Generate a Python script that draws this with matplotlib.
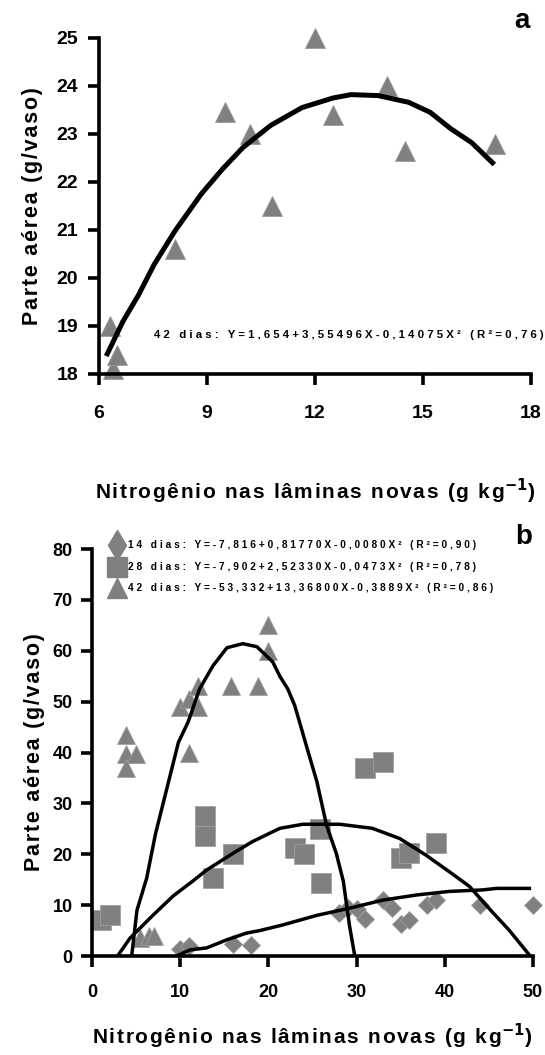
import matplotlib
matplotlib.use("Agg")
import matplotlib.pyplot as plt

plt.rcParams['font.family'] = ['Liberation Sans', 'DejaVu Sans']
plt.rcParams['font.weight'] = 'bold'
plt.rcParams['axes.labelweight'] = 'bold'
plt.rcParams['mathtext.default'] = 'bf'

# panel a - 42 dias
a_x = [6.3, 6.4, 6.5, 8.1, 9.5, 10.2, 10.8, 12.0, 12.5, 14.0, 14.5, 17.0]
a_y = [19.0, 18.1, 18.4, 20.6, 23.45, 23.0, 21.5, 25.0, 23.4, 24.0, 22.65, 22.8]
a_fit_x = [6.23, 6.66, 7.1, 7.53, 8.1, 8.84, 9.43, 10.0, 10.77, 11.64, 12.5, 13.0, 13.75, 14.6, 15.2, 15.77, 16.35, 16.93]
a_fit_y = [18.42, 19.09, 19.65, 20.28, 20.97, 21.75, 22.27, 22.72, 23.18, 23.55, 23.75, 23.82, 23.8, 23.66, 23.45, 23.11, 22.82, 22.4]
a_xticks = [6, 9, 12, 15, 18]
a_yticks = [18, 19, 20, 21, 22, 23, 24, 25]
a_eq = "42 dias: Y=1,654+3,55496X-0,14075X² (R²=0,76)"

# panel b
b14_x = [10, 11, 16, 18, 28, 29, 30, 31, 33, 34, 35, 36, 38, 39, 44, 50]
b14_y = [1.4, 2.0, 2.3, 2.2, 8.4, 9.5, 9.3, 7.2, 11.0, 9.5, 6.3, 7.1, 10.0, 11.0, 10.0, 10.0]
b28_x = [1, 2, 12.8, 12.8, 13.7, 16, 23, 24, 25.8, 26, 31, 33, 35, 36, 39]
b28_y = [7, 8, 27.5, 23.5, 15.3, 20, 21.2, 20, 25, 14.3, 37, 38.2, 19.2, 20.2, 22.2]
b42_x = [3.9, 3.8, 5.0, 3.9, 5.5, 6.5, 7.0, 10, 11, 12, 12, 11, 15.8, 18.8, 20, 20]
b42_y = [43.5, 39.7, 39.7, 37.0, 3.5, 4.0, 4.0, 49, 50.6, 53, 49, 40, 53, 53, 60, 65]

b14_fit_x = [9.6, 11.1, 13, 15.3, 17.5, 19, 21.6, 25.5, 29.2, 33, 36.8, 40.5, 44.3, 45.9, 49.6]
b14_fit_y = [0, 1.2, 1.6, 3.2, 4.5, 5.0, 6.1, 8.0, 9.4, 11.0, 12.0, 12.7, 13.0, 13.3, 13.3]
b28_fit_x = [2.9, 4.3, 6.9, 9.2, 11.4, 13, 16, 18.2, 21.3, 23.9, 28.1, 31.8, 34.9, 37.9, 40.5, 42.8, 45, 47.3, 49.6]
b28_fit_y = [0, 3.5, 8, 11.8, 14.7, 16.9, 20.2, 22.5, 25.1, 25.9, 25.9, 25.1, 23.1, 19.8, 16.6, 13.7, 9.4, 5.1, 0.2]
b42_fit_x = [4.5, 5.1, 6.2, 7.2, 8.5, 9.8, 10.9, 11.5, 12.2, 13.7, 15.3, 17.1, 18.7, 20.5, 21.3, 22.2, 23, 24.3, 25.5, 26.6, 27.7, 28.5, 29.2, 29.8]
b42_fit_y = [0, 9, 15.3, 24, 33, 42, 46, 49, 52.5, 57, 60.6, 61.4, 60.8, 57.8, 55, 52.5, 49.2, 41.4, 34.3, 25.7, 20.2, 14.7, 6, 0]
b_xticks = [0, 10, 20, 30, 40, 50]
b_yticks = [0, 10, 20, 30, 40, 50, 60, 70, 80]
b_labels = ["14 dias: Y=-7,816+0,81770X-0,0080X² (R²=0,90)",
            "28 dias: Y=-7,902+2,52330X-0,0473X² (R²=0,78)",
            "42 dias: Y=-53,332+13,36800X-0,3889X² (R²=0,86)"]

ylabel = "Parte aérea (g/vaso)"
xlabel_txt = "Nitrogênio nas lâminas novas (g kg"

grey = '#808080'
HAIR = "\u200a"


def spaced(s):
    return " ".join(list(s))


def airy(s):
    return HAIR.join(list(s))


def style_axes(ax, lw):
    for side in ['top', 'right']:
        ax.spines[side].set_visible(False)
    for side in ['left', 'bottom']:
        ax.spines[side].set_linewidth(lw)
    ax.tick_params(width=lw, length=8, direction='out')


xlabel = airy(xlabel_txt) + "$^{-1}$)"

fig = plt.figure(figsize=(5.45, 10.55), dpi=100)

# ---- a ----
ax1 = fig.add_axes([0.1817, 0.6455, 0.7927, 0.3185])
ax1.plot(a_x, a_y, linestyle='none', marker='^', ms=15, color=grey,
         mec='#9a9a9a', mew=0.6, clip_on=False, zorder=2)
ax1.plot(a_fit_x, a_fit_y, color='black', lw=3.6, zorder=3)
ax1.set_xlim(6, 18)
ax1.set_ylim(18, 25)
ax1.set_xticks(a_xticks)
ax1.set_yticks(a_yticks)
style_axes(ax1, 2.6)
ax1.tick_params(axis='x', pad=14, labelsize=14)
ax1.tick_params(axis='y', pad=7, labelsize=14)
ax1.set_ylabel(airy(ylabel), fontsize=15.5, labelpad=10)
ax1.set_xlabel(xlabel, fontsize=15, labelpad=40)
ax1.text(1.028, 0.115, spaced(a_eq), transform=ax1.transAxes, ha='right',
         va='center', fontsize=8.2)
ax1.text(0.98, 1.05, "a", transform=ax1.transAxes, ha='center', va='center',
         fontsize=20)

# ---- b ----
ax2 = fig.add_axes([0.1688, 0.0938, 0.809, 0.3858])
ax2.plot(b14_x, b14_y, linestyle='none', marker='D', ms=9.5, color=grey,
         mec='#a0a0a0', mew=0.6, clip_on=False, zorder=2)
ax2.plot(b28_x, b28_y, linestyle='none', marker='s', ms=14, color=grey,
         mec='#a0a0a0', mew=0.6, clip_on=False, zorder=2)
ax2.plot(b42_x, b42_y, linestyle='none', marker='^', ms=13, color=grey,
         mec='#a0a0a0', mew=0.6, clip_on=False, zorder=2)
ax2.plot(b14_fit_x, b14_fit_y, color='black', lw=2.5, zorder=3)
ax2.plot(b28_fit_x, b28_fit_y, color='black', lw=2.5, zorder=3)
ax2.plot(b42_fit_x, b42_fit_y, color='black', lw=2.5, zorder=3)
ax2.set_xlim(0, 50)
ax2.set_ylim(0, 80)
ax2.set_xticks(b_xticks)
ax2.set_yticks(b_yticks)
style_axes(ax2, 2.6)
ax2.tick_params(axis='x', pad=12, labelsize=13)
ax2.tick_params(axis='y', pad=6, labelsize=13)
ax2.set_ylabel(airy(ylabel), fontsize=15.5, labelpad=5)
ax2.set_xlabel(xlabel, fontsize=15, labelpad=15)

# legend drawn by hand
leg_markers = [('d', 15), ('s', 14), ('^', 14)]
leg_y = [1.01, 0.956, 0.904]
for (m, size), yy, lab in zip(leg_markers, leg_y, b_labels):
    ax2.plot([0.057], [yy], transform=ax2.transAxes, marker=m, ms=size,
             color=grey, linestyle='none', clip_on=False)
    ax2.text(0.082, yy, spaced(lab), transform=ax2.transAxes, ha='left',
             va='center', fontsize=7.3)
ax2.text(0.98, 1.03, "b", transform=ax2.transAxes, ha='center', va='center',
         fontsize=20)

fig.savefig("out.png", dpi=100)
